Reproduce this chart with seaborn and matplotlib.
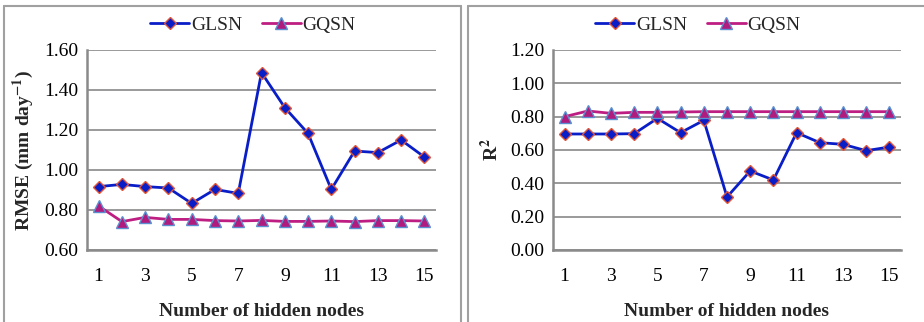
import numpy as np
import pandas as pd
import matplotlib
matplotlib.use("Agg")
import matplotlib.pyplot as plt
import seaborn as sns
from matplotlib.lines import Line2D

nodes = list(range(1, 16))
rmse_glsn = [0.917, 0.928, 0.917, 0.910, 0.833, 0.903, 0.883, 1.487, 1.312, 1.183,
             0.903, 1.095, 1.087, 1.150, 1.065]
rmse_gqsn = [0.820, 0.742, 0.763, 0.753, 0.753, 0.747, 0.745, 0.748, 0.743, 0.743,
             0.745, 0.742, 0.747, 0.747, 0.745]
r2_glsn = [0.696, 0.696, 0.696, 0.698, 0.790, 0.704, 0.778, 0.318, 0.474, 0.420,
           0.704, 0.644, 0.634, 0.596, 0.618]
r2_gqsn = [0.800, 0.834, 0.820, 0.826, 0.826, 0.828, 0.830, 0.830, 0.830, 0.830,
           0.830, 0.830, 0.830, 0.830, 0.830]
series = ["GLSN", "GQSN"]
xticks = [1, 3, 5, 7, 9, 11, 13, 15]

sns.set_theme(style="white")
plt.rcParams['font.family'] = ['Liberation Serif', 'DejaVu Serif']
plt.rcParams['mathtext.fontset'] = 'stix'

fig = plt.figure(figsize=(9.24, 3.22), dpi=100)
W, H = 924, 322

def fx(px):
    return px / W

def fy(py):
    return 1 - py / H

ax1 = fig.add_axes([fx(87), fy(250), fx(436) - fx(87), fy(50) - fy(250)])
ax2 = fig.add_axes([fx(553), fy(250), fx(901) - fx(553), fy(50) - fy(250)])

blue = "#0A1EC8"
mag = "#BE1E82"
styles = {
    "GLSN": dict(color=blue, marker="D", mfc="#0A1EC8", mec="#E0553A", ms=6.2, mew=1.0),
    "GQSN": dict(color=mag, marker="^", mfc="#B01C7E", mec="#5B8FD0", ms=8.5, mew=1.0),
}

def draw(ax, a, b, ylim, yticks, ylabel, leg_x):
    df = pd.DataFrame({
        "node": nodes * 2,
        "value": list(a) + list(b),
        "series": [series[0]] * len(nodes) + [series[1]] * len(nodes),
    })
    for s in series:
        st = styles[s]
        sns.lineplot(data=df[df.series == s], x="node", y="value", ax=ax,
                     color=st["color"], lw=2.0, marker=st["marker"],
                     markerfacecolor=st["mfc"], markeredgecolor=st["mec"],
                     markersize=st["ms"], markeredgewidth=st["mew"], label=s)
    ax.set_xlim(0.5, 15.5)
    ax.set_ylim(*ylim)
    ax.set_xticks(xticks)
    ax.set_xticklabels([str(t) for t in xticks])
    ax.set_yticks(yticks)
    ax.set_yticklabels([f"{t:.2f}" for t in yticks])
    ax.yaxis.grid(True, color="#9a9a9a", lw=1.4)
    ax.set_axisbelow(True)
    for sp in ["top", "right"]:
        ax.spines[sp].set_visible(False)
    for sp in ["left", "bottom"]:
        ax.spines[sp].set_color("#8a8a8a")
        ax.spines[sp].set_linewidth(1.8)
    ax.tick_params(axis="both", length=0, labelsize=14, colors="black")
    ax.tick_params(axis="x", pad=13)
    ax.tick_params(axis="y", pad=6)
    ax.set_xlabel("Number of hidden nodes", fontsize=14, fontweight="bold", labelpad=13)
    ax.set_ylabel(ylabel, fontsize=14, fontweight="bold", labelpad=6)
    ax.legend(loc="center", bbox_to_anchor=(leg_x, 1.125), ncol=2, frameon=False,
              fontsize=14, handlelength=2.0, handletextpad=0.1, columnspacing=1.0,
              borderaxespad=0)

draw(ax1, rmse_glsn, rmse_gqsn, (0.6, 1.6), [0.6, 0.8, 1.0, 1.2, 1.4, 1.6],
     r"RMSE (mm day$^{\mathbf{-1}}$)", 0.476)
draw(ax2, r2_glsn, r2_gqsn, (0.0, 1.2), [0.0, 0.2, 0.4, 0.6, 0.8, 1.0, 1.2],
     r"R$^{\mathbf{2}}$", 0.417)

# panel borders
bc = "#a0a0a0"
for xs, ys in [((4, 4), (6, 322)), ((4, 461), (6, 6)), ((461, 461), (6, 322)),
               ((468, 468), (6, 322)), ((468, 924), (6, 6))]:
    fig.add_artist(Line2D([fx(xs[0]), fx(xs[1])], [fy(ys[0]), fy(ys[1])],
                          transform=fig.transFigure, color=bc, lw=1.5))

fig.savefig("out.png", dpi=100)
